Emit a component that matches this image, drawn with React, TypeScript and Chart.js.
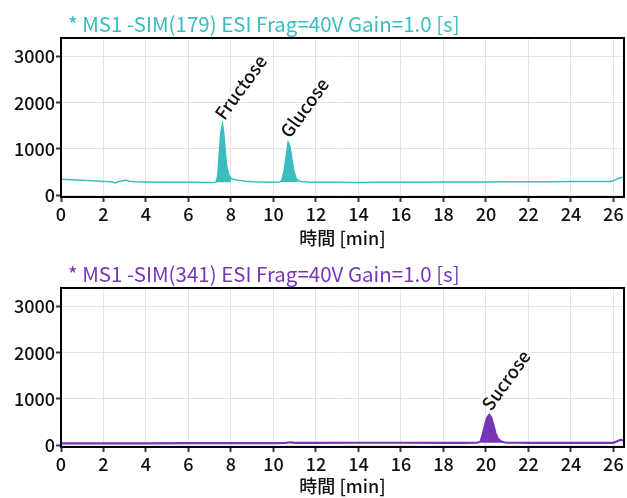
import React, { useEffect, useRef } from "react";
import { Chart, registerables } from "chart.js";

Chart.register(...registerables);

const FONT = '"Noto Sans CJK JP", "Noto Sans", sans-serif';

// axes
const xTicks = [0, 2, 4, 6, 8, 10, 12, 14, 16, 18, 20, 22, 24, 26];
const yTicks = [0, 1000, 2000, 3000];
const xMin = 0;
const xMax = 26.5;
const yMin = -40;
const yMax = 3400;
const xAxisTitle = "時間 [min]";

// trace 1 : SIM(179)
const title179 = "* MS1 -SIM(179) ESI Frag=40V Gain=1.0 [s]";
const time179 = [0, 0.5, 1, 1.5, 2, 2.4, 2.55, 2.7, 2.9, 3.05, 3.2, 3.5, 4, 5, 6, 7, 7.3, 7.38, 7.45, 7.52, 7.6, 7.66, 7.72, 7.8, 7.9, 8.0, 8.1, 8.2, 8.4, 8.7, 9, 9.5, 10, 10.3, 10.4, 10.5, 10.6, 10.69, 10.78, 10.86, 10.95, 11.05, 11.15, 11.3, 11.6, 12, 13, 14, 15, 16, 17, 18, 19, 20, 21, 22, 23, 24, 25, 25.9, 26.1, 26.3, 26.5];
const signal179 = [345, 335, 322, 310, 298, 292, 262, 290, 310, 328, 300, 288, 283, 280, 278, 276, 278, 420, 900, 1350, 1535, 1350, 1000, 620, 430, 360, 345, 340, 320, 300, 292, 285, 280, 282, 330, 520, 850, 1145, 1050, 800, 540, 380, 320, 295, 285, 280, 278, 276, 278, 280, 280, 282, 285, 285, 288, 290, 292, 295, 296, 298, 330, 375, 390];
const peakNames179 = ["Fructose", "Glucose"];
const peakTimes179 = [7.6, 10.69];
const peakHeights179 = [1535, 1145];
const peakStart179 = [7.3, 10.3];
const peakEnd179 = [8.0, 11.15];
const peakBase179 = [278, 282];

// trace 2 : SIM(341)
const title341 = "* MS1 -SIM(341) ESI Frag=40V Gain=1.0 [s]";
const time341 = [0, 2, 4, 6, 8, 10, 10.6, 10.8, 11.0, 12, 14, 16, 18, 19, 19.6, 19.75, 19.85, 19.95, 20.05, 20.16, 20.25, 20.35, 20.45, 20.55, 20.7, 20.85, 21.0, 21.5, 22, 24, 25.5, 26.0, 26.2, 26.35, 26.5];
const signal341 = [38, 40, 40, 42, 44, 45, 48, 62, 50, 50, 52, 52, 50, 50, 52, 80, 230, 420, 590, 655, 600, 440, 260, 150, 85, 62, 55, 52, 50, 48, 48, 50, 90, 115, 105];
const peakNames341 = ["Sucrose"];
const peakTimes341 = [20.16];
const peakHeights341 = [655];
const peakStart341 = [19.75];
const peakEnd341 = [20.85];
const peakBase341 = [50];

const TEAL = "#3bbcbf";
const PURPLE = "#7636b8";

type PanelProps = {
  title: string;
  color: string;
  time: number[];
  signal: number[];
  names: string[];
  ptimes: number[];
  pheights: number[];
  pstart: number[];
  pend: number[];
  pbase: number[];
  height: number;
  lineWidth: number;
};

function Panel(p: PanelProps) {
  const ref = useRef<HTMLCanvasElement | null>(null);
  useEffect(() => {
    const canvas = ref.current;
    if (!canvas) return;
    const plotBottom = 197;
    const mainData = p.time.map((t, i) => ({ x: t, y: p.signal[i] }));
    const peakSets = p.pstart.map((s, k) => ({
      data: mainData.filter((d) => d.x >= s && d.x <= p.pend[k]),
      borderWidth: 0,
      borderColor: p.color,
      backgroundColor: p.color,
      pointRadius: 0,
      fill: { value: p.pbase[k] },
      tension: 0,
      order: 2,
    }));

    const framePlugin = {
      id: "frame",
      afterDatasetsDraw(chart: any) {
        const { ctx, chartArea: a } = chart;
        ctx.save();
        ctx.strokeStyle = "#000";
        ctx.lineWidth = 2;
        ctx.strokeRect(a.left, a.top, a.right - a.left, a.bottom - a.top);
        ctx.restore();
      },
    };
    const labelPlugin = {
      id: "peaklabels",
      afterDatasetsDraw(chart: any) {
        const { ctx } = chart;
        const xs = chart.scales.x;
        const ys = chart.scales.y;
        ctx.save();
        ctx.fillStyle = "#111";
        ctx.font = `500 18px ${FONT}`;
        ctx.textAlign = "left";
        ctx.textBaseline = "alphabetic";
        p.names.forEach((n, k) => {
          const px = xs.getPixelForValue(p.ptimes[k]);
          const py = ys.getPixelForValue(p.pheights[k]);
          ctx.save();
          ctx.translate(px + 2, py - 3);
          ctx.rotate((-54 * Math.PI) / 180);
          ctx.fillText(n, 0, 0);
          ctx.restore();
        });
        ctx.restore();
      },
    };
    const titlePlugin = {
      id: "paneltitle",
      afterDraw(chart: any) {
        const { ctx } = chart;
        ctx.save();
        ctx.fillStyle = p.color;
        ctx.font = `400 20.5px ${FONT}`;
        ctx.textAlign = "left";
        ctx.textBaseline = "middle";
        ctx.fillText(p.title, 68, 24);
        ctx.restore();
      },
    };

    const chart = new Chart(canvas, {
      type: "line",
      data: {
        datasets: [
          {
            data: mainData,
            borderColor: p.color,
            borderWidth: p.lineWidth,
            pointRadius: 0,
            fill: false,
            tension: 0,
            order: 1,
          } as any,
          ...(peakSets as any[]),
        ],
      },
      options: {
        animation: false,
        responsive: false,
        devicePixelRatio: 1,
        layout: { padding: { left: 0, top: 38, right: 3, bottom: 0 } },
        plugins: {
          legend: { display: false },
          tooltip: { enabled: false },
          title: { display: false },
        },
        scales: {
          x: {
            type: "linear",
            min: xMin,
            max: xMax,
            afterBuildTicks: (s: any) => {
              s.ticks = xTicks.map((v) => ({ value: v }));
            },
            afterFit: (s: any) => {
              s.height = p.height - plotBottom;
            },
            grid: {
              color: "#e4e4e4",
              lineWidth: 1,
              drawTicks: true,
              tickLength: 5,
              tickColor: "#2c3e50",
              tickWidth: 2,
            },
            border: { display: false },
            ticks: {
              color: "#111",
              font: { family: FONT, size: 18, weight: 500 },
              padding: 1,
              maxRotation: 0,
              autoSkip: false,
              callback: (v: any) => String(v),
            },
            title: {
              display: true,
              text: xAxisTitle,
              color: "#111",
              font: { family: FONT, size: 18, weight: 500, lineHeight: 1 },
              padding: { top: 0, bottom: 3 },
            },
          },
          y: {
            type: "linear",
            min: yMin,
            max: yMax,
            afterBuildTicks: (s: any) => {
              s.ticks = yTicks.map((v) => ({ value: v }));
            },
            afterFit: (s: any) => {
              s.width = 61;
            },
            grid: {
              color: "#e4e4e4",
              lineWidth: 1,
              drawTicks: true,
              tickLength: 5,
              tickColor: "#2c3e50",
              tickWidth: 2,
            },
            border: { display: false },
            ticks: {
              color: "#111",
              font: { family: FONT, size: 18, weight: 500 },
              padding: 1,
              autoSkip: false,
              callback: (v: any) => String(v),
            },
          },
        },
      } as any,
      plugins: [framePlugin, labelPlugin, titlePlugin],
    });
    return () => chart.destroy();
  }, []);
  return (
    <canvas
      ref={ref}
      width={627}
      height={p.height}
      style={{ display: "block", width: 627, height: p.height }}
    />
  );
}

export default function App() {
  return (
    <div
      style={{
        position: "fixed",
        left: 0,
        top: 0,
        width: 627,
        height: 498,
        background: "#fff",
      }}
    >
      <Panel
        title={title179}
        color={TEAL}
        time={time179}
        signal={signal179}
        names={peakNames179}
        ptimes={peakTimes179}
        pheights={peakHeights179}
        pstart={peakStart179}
        pend={peakEnd179}
        pbase={peakBase179}
        height={250}
        lineWidth={1.5}
      />
      <Panel
        title={title341}
        color={PURPLE}
        time={time341}
        signal={signal341}
        names={peakNames341}
        ptimes={peakTimes341}
        pheights={peakHeights341}
        pstart={peakStart341}
        pend={peakEnd341}
        pbase={peakBase341}
        height={248}
        lineWidth={2.2}
      />
    </div>
  );
}
